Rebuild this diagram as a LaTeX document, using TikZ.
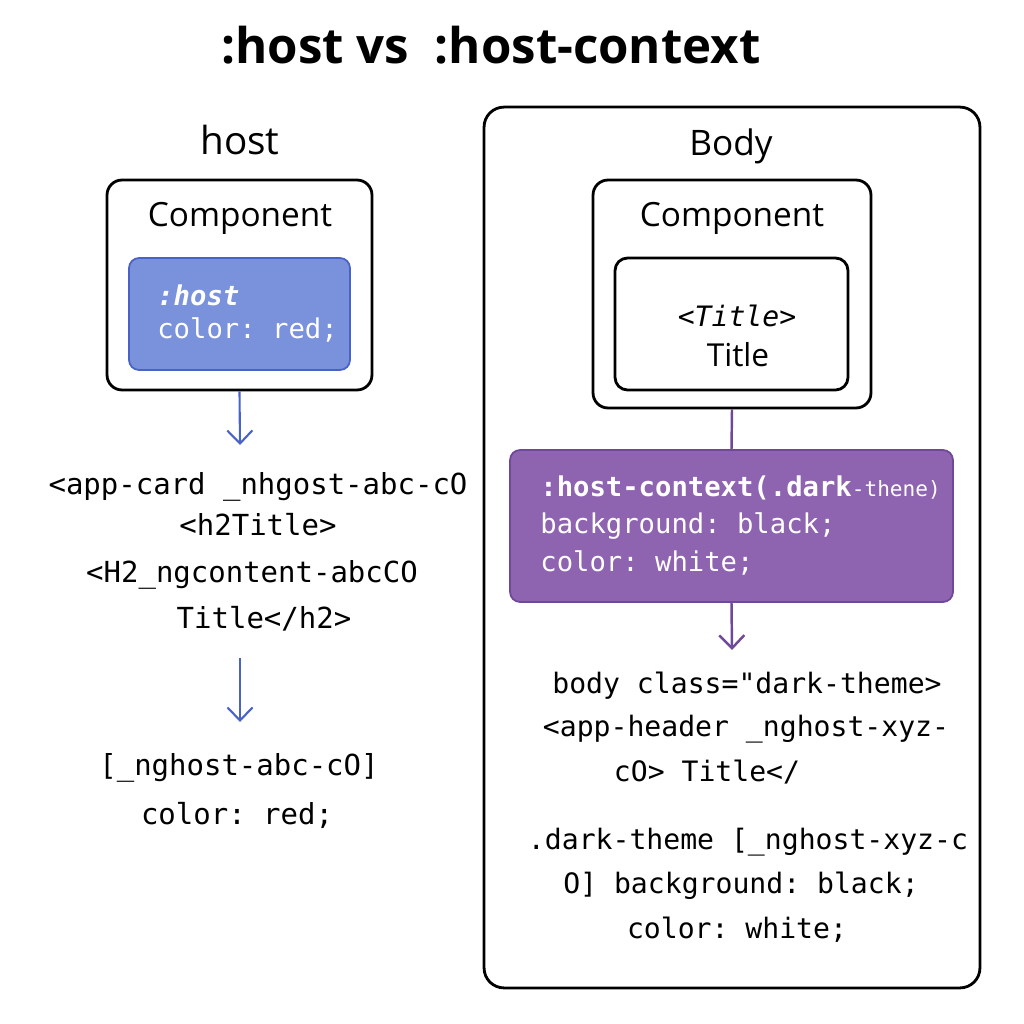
\documentclass[tikz,border=0pt]{standalone}
\usepackage{fontspec}
\setmainfont{Open Sans}
\setmonofont{DejaVu Sans Mono}
\usetikzlibrary{arrows.meta}
\usetikzlibrary{positioning}
\definecolor{hostfill}{RGB}{122,145,219}
\definecolor{hostline}{RGB}{72,98,198}
\definecolor{ctxfill}{RGB}{142,99,176}
\definecolor{ctxline}{RGB}{112,72,152}

\begin{document}
\begin{tikzpicture}[x=0.02cm,y=-0.02cm,
  frame/.style={draw,line width=1.6pt,rounded corners=0.3cm},
  hostbox/.style={draw=hostline,fill=hostfill,line width=1pt,rounded corners=0.2cm},
  ctxbox/.style={draw=ctxline,fill=ctxfill,line width=1pt,rounded corners=0.2cm},
  head/.style={font=\fontsize{22}{26}\selectfont},
  comp/.style={font=\fontsize{19}{23}\selectfont},
  code/.style={font=\ttfamily\fontsize{16}{19}\selectfont,inner sep=0pt},
  lcode/.style={code,font=\ttfamily\fontsize{16.5}{19}\selectfont},
  boxcode/.style={font=\ttfamily\fontsize{15.5}{18}\selectfont,text=white,anchor=west,inner sep=0pt},
  hostarr/.style={hostline,line width=1.2pt,-{Straight Barb[length=2.6mm,width=5mm]}},
  ctxarr/.style={ctxline,line width=1.4pt,-{Straight Barb[length=2.6mm,width=5mm]}}]
  \useasboundingbox (0,0) rectangle (1024,1024);

  \node (title) at (491,45) [font=\bfseries\fontsize{28}{32}\selectfont]{:host vs\ \ :host-context};

  % left side
  \node (hostlbl) at (240,140) [head]{host};
  \node (lcomp) at (239.5,285) [frame,minimum width=5.3cm,minimum height=4.2cm]{};
  \node (lcomplbl) at (240,218) [comp]{Component};
  \node (hostrule) at (239.5,314) [hostbox,minimum width=4.42cm,minimum height=2.24cm]{};
  \node (hostsel) at (157,295) [boxcode]{\textbf{\textit{:host}}};
  \node (hostcol) at (157,330) [boxcode]{color: red;};

  \node (card) at (258,487) [lcode]{<app-card \_nhgost-abc-cO};
  \node (h2open) at (258,525) [lcode]{<h2Title>};
  \node (h2ng) at (252,575) [lcode]{<H2\_ngcontent-abcCO};
  \node (h2close) at (264,619) [lcode]{Title</h2>};
  \node (hostcss) at (239,768) [lcode]{[\_nghost-abc-cO]};
  \node (hostred) at (237,815) [lcode]{color: red;};

  \coordinate (la1) at (240,445);
  \coordinate (la2s) at (240,658);
  \coordinate (la2e) at (240,722);
  \draw[hostarr] (lcomp.south) -- (la1);
  \draw[hostarr] (la2s) -- (la2e);

  % right side
  \node (body) at (732,547.5) [frame,rounded corners=0.4cm,minimum width=9.92cm,minimum height=17.62cm]{};
  \node (bodylbl) at (731,146) [head,font=\fontsize{20}{24}\selectfont]{Body};
  \node (rcomp) at (732,294) [frame,minimum width=5.56cm,minimum height=4.56cm]{};
  \node (rcomplbl) at (732,218) [comp]{Component};
  \node (tcomp) at (731.5,324) [frame,rounded corners=0.25cm,minimum width=4.66cm,minimum height=2.64cm]{};
  \node (ttag) at (737,316) [code]{<\textit{Title}>};
  \node (ttext) at (738,355) [font=\fontsize{18}{22}\selectfont,inner sep=0pt]{Title};

  \node (ctx) at (731.5,526) [ctxbox,minimum width=8.86cm,minimum height=3.04cm]{};
  \node (ctxsel) at (540,488) [boxcode]{\textbf{:host-context(.dark}{\fontsize{12}{14}\selectfont -thene)}};
  \node (ctxbg) at (540,526) [boxcode]{background: black;};
  \node (ctxcol) at (540,563) [boxcode]{color: white;};
  \draw[ctxline,line width=1.4pt] (rcomp.south) -- (ctx.north);
  \coordinate (ra1) at (732,650);
  \draw[ctxarr] (ctx.south) -- (ra1);

  \node (bodycls) at (747,686) [code]{body class="dark-theme>};
  \node (apphdr) at (746,729) [code]{<app-header \_nghost-xyz-};
  \node (hdrend) at (707,772) [code]{cO> Title</};
  \node (darksel) at (748,842) [code]{.dark-theme [\_nghost-xyz-c};
  \node (darkbg) at (741,886) [code]{O] background: black;};
  \node (darkcol) at (737,930) [code]{color: white;};
\end{tikzpicture}
\end{document}
